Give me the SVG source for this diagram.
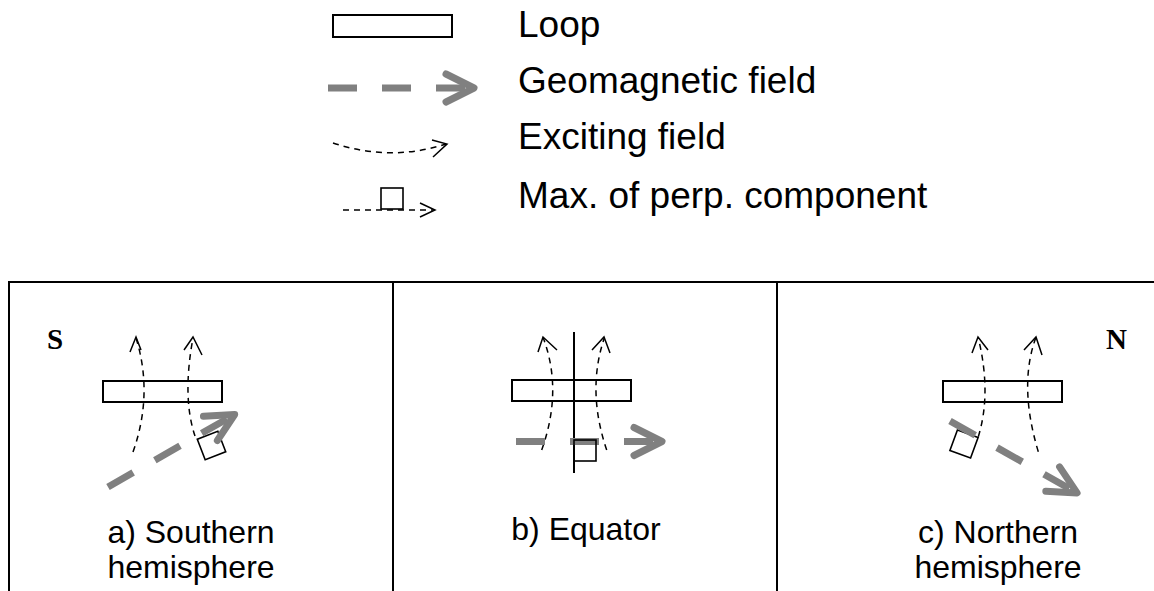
<svg xmlns="http://www.w3.org/2000/svg" width="1154" height="591" viewBox="0 0 1154 591">
<style>
.bg{fill:#fff}
.frame{fill:none;stroke:#000;stroke-width:2}
.loop{fill:#fff;stroke:#000;stroke-width:2}
.sq{fill:none;stroke:#000;stroke-width:1.6}
.ex{fill:none;stroke:#000;stroke-width:1.5;stroke-dasharray:6 5}
.exh{fill:none;stroke:#000;stroke-width:1.5}
.geo{fill:none;stroke:#808080;stroke-width:7;stroke-dasharray:29 25}
.geoh{fill:none;stroke:#808080;stroke-width:7;stroke-linecap:round;stroke-linejoin:round}
.leg{font-family:"Liberation Sans",Arial,sans-serif;font-size:37px;fill:#000}
.lab{font-family:"Liberation Sans",Arial,sans-serif;font-size:32px;fill:#000;text-anchor:middle}
.pole{font-family:"Liberation Serif","Times New Roman",serif;font-size:29px;font-weight:bold;fill:#000}
.axis{stroke:#000;stroke-width:2}
</style>
<defs>
<g id="geoArrow">
<line class="geo" x1="0" y1="0" x2="146" y2="0"/>
<polyline class="geoh" points="118,-14 146,0 118,14"/>
</g>
</defs>
<rect class="bg" x="0" y="0" width="1154" height="591"/>

<g id="legend">
<g id="legend-loop">
<rect class="loop" x="333" y="15" width="119" height="22"/>
<text class="leg" x="518" y="37">Loop</text>
</g>
<g id="legend-geo">
<use href="#geoArrow" x="328" y="88"/>
<text class="leg" x="518" y="93">Geomagnetic field</text>
</g>
<g id="legend-exc">
<path class="ex" d="M333,143 Q390,162 446,144"/>
<polyline class="exh" points="432,140 447,144 433,157"/>
<text class="leg" x="518" y="149">Exciting field</text>
</g>
<g id="legend-max">
<line class="ex" x1="343" y1="210" x2="434" y2="210"/>
<polyline class="exh" points="420,203 435,210 420,217"/>
<rect class="sq" x="381" y="188" width="22" height="21"/>
<text class="leg" x="518" y="208">Max. of perp. component</text>
</g>
</g>

<g id="frame">
<polyline class="frame" points="9,591 9,282 1160,282"/>
<line class="frame" x1="393" y1="282" x2="393" y2="591"/>
<line class="frame" x1="777" y1="282" x2="777" y2="591"/>
</g>

<g id="panel-a">
<text class="pole" x="47" y="349">S</text>
<rect class="loop" x="103" y="381" width="119" height="21"/>
<g class="connectors">
<path class="ex" d="M133,452 Q153.5,394 136,338"/>
<polyline class="exh" points="130,352 136,337 141,350"/>
<path class="ex" d="M195,436 Q182,397.5 193,338"/>
<polyline class="exh" points="184,350 193,337 202,355"/>
</g>
<rect class="sq" x="200.5" y="434.5" width="22" height="22" transform="rotate(-21 211.5 445.5)"/>
<use href="#geoArrow" transform="translate(108 487) rotate(-29.8)"/>
<text class="lab" x="191" y="543">a) Southern</text>
<text class="lab" x="191" y="578">hemisphere</text>
</g>

<g id="panel-b">
<line class="axis" x1="574" y1="332" x2="574" y2="473"/>
<rect class="loop" x="512" y="380" width="119" height="21" style="fill:none"/>
<g class="connectors">
<path class="ex" d="M541.7,450 Q562.9,390.5 543.3,338"/>
<polyline class="exh" points="538,352 543,337 557,350"/>
<path class="ex" d="M606.7,450 Q586.5,390.5 604.3,338"/>
<polyline class="exh" points="592,350 604,337 610,353"/>
</g>
<use href="#geoArrow" transform="translate(516 441.5)"/>
<rect class="sq" x="574" y="440" width="22" height="21"/>
<text class="lab" x="586" y="540">b) Equator</text>
</g>

<g id="panel-c">
<text class="pole" x="1106" y="349">N</text>
<rect class="loop" x="943" y="381" width="119" height="21"/>
<g class="connectors">
<path class="ex" d="M978.3,436.7 Q991.7,393.3 978.3,338"/>
<polyline class="exh" points="972,353 978,337 988,350"/>
<path class="ex" d="M1038.3,451.7 Q1018.4,385.8 1035.7,338"/>
<polyline class="exh" points="1024,350 1036,337 1042,355"/>
</g>
<rect class="sq" x="953" y="433" width="22" height="22" transform="rotate(20 964 444)"/>
<use href="#geoArrow" transform="translate(950 421) rotate(29.5)"/>
<text class="lab" x="998" y="543">c) Northern</text>
<text class="lab" x="998" y="578">hemisphere</text>
</g>
</svg>
